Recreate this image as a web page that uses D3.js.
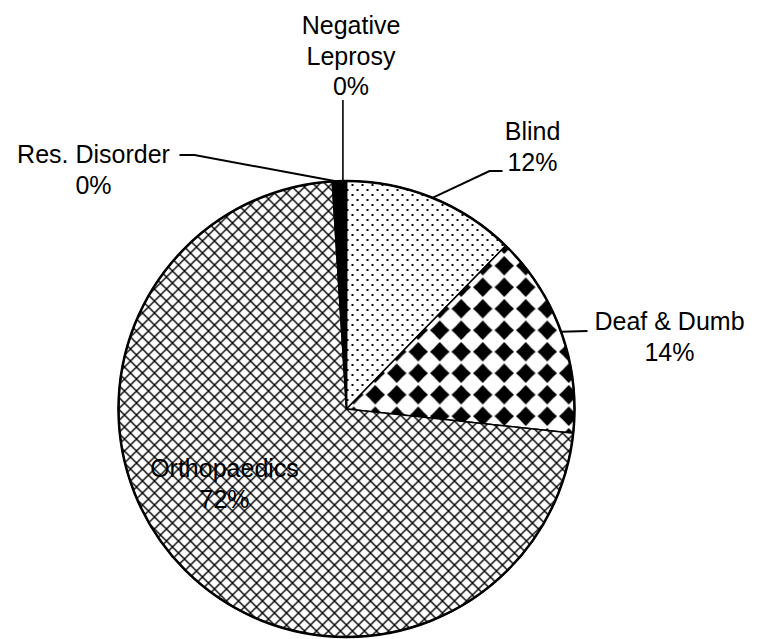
<!DOCTYPE html>
<html lang="en">
<head>
<meta charset="UTF-8">
<title>Disability pie</title>
<script src="https://cdn.jsdelivr.net/npm/d3@7"></script>
<style>
  html, body { margin: 0; padding: 0; background: #fff; }
  text { font-family: "Liberation Sans", Arial, sans-serif; font-size: 25px; fill: #000; }
</style>
</head>
<body>
<svg width="759" height="639"></svg>
<script>
const categories = ['Blind', 'Deaf & Dumb', 'Orthopaedics', 'Res. Disorder', 'Negative Leprosy'];
const values = [12.3, 14.4, 72.3, 0.5, 0.5];
const percentLabels = ['12%', '14%', '72%', '0%', '0%'];

const width = 759, height = 639;
const cx = 346.5, cy = 409, r = 228;

const svg = d3.select('svg');
const defs = svg.append('defs');

// dotted (Blind)
const pDots = defs.append('pattern').attr('id', 'p-dots')
  .attr('patternUnits', 'userSpaceOnUse').attr('width', 10).attr('height', 10);
pDots.append('rect').attr('width', 10).attr('height', 10).attr('fill', '#fff');
pDots.append('rect').attr('x', 0).attr('y', 0).attr('width', 2).attr('height', 2).attr('fill', '#000');
pDots.append('rect').attr('x', 5).attr('y', 5).attr('width', 2).attr('height', 2).attr('fill', '#000');

// black diamonds (Deaf & Dumb)
const dS = 21.5, dh = 9.8, dc = 4;
const pDia = defs.append('pattern').attr('id', 'p-dia')
  .attr('patternUnits', 'userSpaceOnUse').attr('width', dS).attr('height', dS)
  .attr('x', cx - 6).attr('y', cy - 4);
pDia.append('rect').attr('width', dS).attr('height', dS).attr('fill', '#fff');
const m = dS / 2;
pDia.append('path')
  .attr('d', `M${m},${m-dh} L${m+dc},${m-dc-1.5} L${m+dc+1.5},${m-dc} L${m+dh},${m} L${m+dc+1.5},${m+dc} L${m+dc},${m+dc+1.5} L${m},${m+dh} L${m-dc},${m+dc+1.5} L${m-dc-1.5},${m+dc} L${m-dh},${m} L${m-dc-1.5},${m-dc} L${m-dc},${m-dc-1.5} Z`)
  .attr('fill', '#000');

// diagonal crosshatch (Orthopaedics)
const hS = 12;
const pHatch = defs.append('pattern').attr('id', 'p-hatch')
  .attr('patternUnits', 'userSpaceOnUse').attr('width', hS).attr('height', hS);
pHatch.append('rect').attr('width', hS).attr('height', hS).attr('fill', '#fff');
pHatch.append('path')
  .attr('d', `M0,0 L${hS},${hS} M0,${hS} L${hS},0`)
  .attr('stroke', '#000').attr('stroke-width', 1.4).attr('fill', 'none');

const fills = ['url(#p-dots)', 'url(#p-dia)', 'url(#p-hatch)', '#000', '#000'];

const pie = d3.pie().sort(null).value(d => d).startAngle(0).endAngle(2 * Math.PI);
const arcs = pie(values);
const arc = d3.arc().innerRadius(0).outerRadius(r);
const edge = d3.arc().innerRadius(r).outerRadius(r);

const g = svg.append('g').attr('transform', `translate(${cx},${cy})`);

g.selectAll('path.slice').data(arcs).join('path')
  .attr('class', 'slice')
  .attr('d', arc)
  .attr('fill', (d, i) => fills[i])
  .attr('stroke', '#000')
  .attr('stroke-width', 1.5)
  .attr('stroke-linejoin', 'round');

g.append('circle').attr('r', r).attr('fill', 'none')
  .attr('stroke', '#000').attr('stroke-width', 2.5);

// label placement (relative to the pie centre)
const labelLayout = [
  {x: 186, y: -269, leader: [[143, -238], [156, -238]]},
  {x: 323, y: -79, leader: [[241, -78]]},
  {x: -122, y: 68, leader: null},
  {x: -253, y: -246, leader: [[-152, -254], [-167, -254]]},
  {x: 4.5, y: -375, leader: [[null, -309]]}
];

arcs.forEach((d, i) => {
  const L = labelLayout[i];
  if (L.leader) {
    const p0 = edge.centroid(d);
    const pts = [p0].concat(L.leader.map(p => [p[0] === null ? p0[0] : p[0], p[1]]));
    g.append('path')
      .attr('d', d3.line()(pts))
      .attr('fill', 'none').attr('stroke', '#000')
      .attr('stroke-width', i === 4 ? 1.6 : 2);
  }
  const lines = categories[i] === 'Negative Leprosy'
    ? ['Negative', 'Leprosy', percentLabels[i]]
    : [categories[i], percentLabels[i]];
  const t = g.append('text').attr('text-anchor', 'middle');
  lines.forEach((s, k) => {
    t.append('tspan').attr('x', L.x).attr('y', L.y + k * 30.5).text(s);
  });
});
</script>
</body>
</html>
